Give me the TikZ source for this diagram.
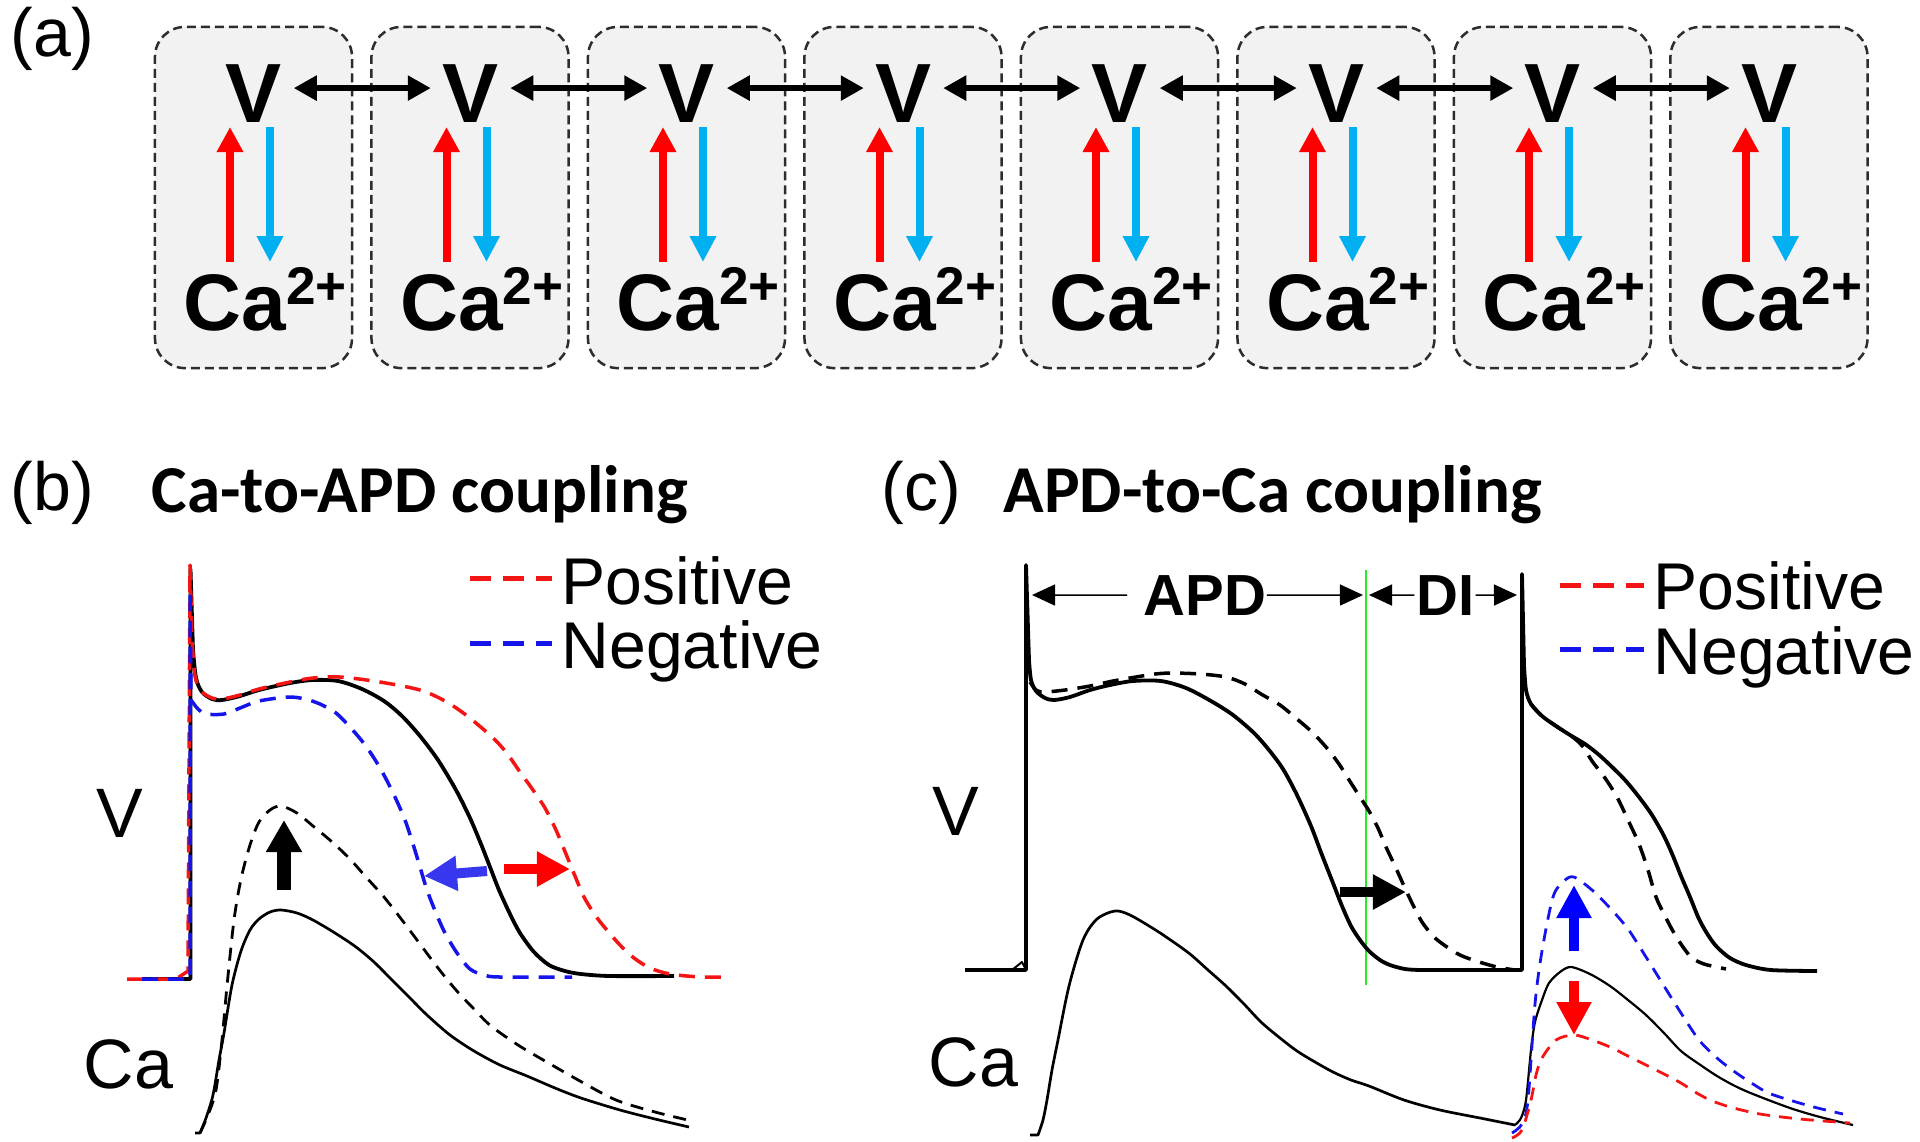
\documentclass[tikz,border=0pt]{standalone}
\usepackage{fontspec}
\setmainfont{Liberation Sans}
\newfontfamily\calib{Carlito}
\usetikzlibrary{arrows.meta}
\definecolor{cyanA}{RGB}{0,176,240}
\definecolor{redA}{RGB}{255,0,0}
\definecolor{boxfill}{RGB}{242,242,242}
\definecolor{boxline}{RGB}{45,45,45}
\definecolor{curveblue}{RGB}{20,20,235}
\definecolor{curvered}{RGB}{245,20,20}
\definecolor{arrblue}{RGB}{55,55,240}
\definecolor{greenl}{RGB}{40,235,40}
\definecolor{dimgray}{RGB}{70,70,70}
\tikzset{
  cellbox/.style={draw=boxline, fill=boxfill, dash pattern=on 0.09cm off 0.05cm, line width=0.025cm, rounded corners=0.3cm, minimum width=1.97cm, minimum height=3.41cm, inner sep=0},
  vtext/.style={anchor=base, inner ysep=0, inner xsep=0.11cm, font=\fontsize{23.9pt}{24pt}\selectfont\bfseries},
  catext/.style={anchor=base west, inner sep=0, font=\fontsize{22.8pt}{23pt}\selectfont\bfseries},
  redup/.style={redA, line width=0.08cm, -{Triangle[length=0.25cm,width=0.25cm]}},
  bluedown/.style={cyanA, line width=0.08cm, -{Triangle[length=0.26cm,width=0.25cm]}},
  dbl/.style={black, line width=0.055cm, {Triangle[length=0.23cm,width=0.24cm]}-{Triangle[length=0.23cm,width=0.24cm]}},
  panellab/.style={anchor=base west, inner sep=0, font=\fontsize{19.35pt}{20pt}\selectfont},
  title/.style={anchor=base west, inner sep=0, font=\fontsize{19.06pt}{20pt}\selectfont\calib\bfseries},
  axlab/.style={anchor=base west, inner sep=0, font=\fontsize{19.9pt}{20pt}\selectfont},
  legtext/.style={anchor=base west, inner sep=0, font=\fontsize{18.8pt}{19pt}\selectfont},
  legline/.style={line width=0.05cm, dash pattern=on 0.21cm off 0.12cm},
  vsolid/.style={black, line width=0.038cm, line join=round},
  vdash/.style={line width=0.035cm, dash pattern=on 0.16cm off 0.10cm, line join=round},
  casolid/.style={black, line width=0.027cm, line join=round},
  cadash/.style={line width=0.028cm, dash pattern=on 0.13cm off 0.09cm, line join=round},
  fat/.style={line width=0.11cm, -{Triangle[length=0.33cm,width=0.33cm]}},
  dimline/.style={dimgray, line width=0.015cm, -{Triangle[length=0.23cm,width=0.21cm]}, black},
  dimtext/.style={anchor=base, inner sep=0, font=\fontsize{16.5pt}{17pt}\selectfont\bfseries},
}
\begin{document}
\begin{tikzpicture}[x=0.01cm, y=-0.01cm]
\useasboundingbox (0,0) rectangle (1920,1141);

% ---------------- panel (a)
\node[panellab] (labA) at (10,56) {(a)};
\foreach \i in {1,...,8}{
  \pgfmathsetmacro{\bx}{155+216.5*(\i-1)}
  \node[cellbox] (box\i) at (\bx+98.5,197.5) {};
  \node[vtext] (v\i) at (\bx+99,122) {V};
  \node[catext] (ca\i) at (\bx+28,330) {Ca\raisebox{0.25cm}{\fontsize{15.1pt}{15pt}\selectfont 2+}};
  \coordinate (rb\i) at (\bx+75,262);
  \coordinate (rt\i) at (\bx+75,127);
  \coordinate (bt\i) at (\bx+115,127);
  \coordinate (bb\i) at (\bx+115,262);
  \draw[redup] (rb\i) -- (rt\i);
  \draw[bluedown] (bt\i) -- (bb\i);
}
\foreach \i [evaluate=\i as \j using int(\i+1)] in {1,...,7}
  \draw[dbl] ([yshift=0.05cm]v\i.east) -- ([yshift=0.05cm]v\j.west);

% ---------------- panel (b)
\node[panellab] (labB) at (10,510) {(b)};
\node[title] (titB) at (151,512) {Ca-to-APD coupling};
\node[axlab] (vB) at (96,837) {V};
\node[axlab] (caB) at (83,1088) {Ca};

% legend b
\coordinate (lbr1) at (470,578); \coordinate (lbr2) at (552,578);
\coordinate (lbb1) at (470,643); \coordinate (lbb2) at (552,643);
\draw[legline, curvered] (lbr1) -- (lbr2);
\draw[legline, curveblue] (lbb1) -- (lbb2);
\node[legtext] (posB) at (561,604) {Positive};
\node[legtext] (negB) at (561,668) {Negative};

% V black b
\draw[vsolid] (142,979) -- (190.5,979) -- (190.5,569) -- (193,650) -- plot[smooth, tension=0.5] coordinates {(193,650) (196,678) (202,692) (212,699) (222,700) (240,696) (259,690) (290,683) (313,680) (338,681) (362,689) (384,701) (402,716) (420,736) (438,760) (456,790) (470,818) (481,844) (490,867) (499,890) (510,914) (520,933) (534,952) (549,965) (565,971) (581,974) (610,976) (674,976)};
% V red b
\draw[vdash, curvered] (127,979) -- (176,979) -- (188,971) -- (190,565) -- (192,640) -- plot[smooth, tension=0.5] coordinates {(192,640) (195,676) (201,691) (212,698) (222,699) (240,695) (259,689) (290,682) (313,678) (340,677) (380,682) (420,690) (445,701) (466,715) (491,736) (506,752) (520,772) (533,790) (545,808) (556,830) (566,854) (575,876) (584,897) (595,915) (606,929) (620,945) (634,958) (650,968) (670,974) (700,977) (722,977)};
% V blue b
\draw[vdash, curveblue] (142,979) -- (190,979) -- (190,590) -- (191,700) -- plot[smooth, tension=0.5] coordinates {(191,700) (198,709) (206,714) (224,714) (240,708) (259,701) (288,697) (305,699) (320,704) (336,713) (349,726) (362,741) (374,758) (385,777) (395,797) (405,820) (413,844) (420,867) (427,890) (436,913) (445,933) (457,953) (470,969) (484,975) (500,977) (572,977)};
% Ca solid b
\draw[casolid] (195,1133) -- (200,1133) -- plot[smooth, tension=0.5] coordinates {(200,1133) (206,1118) (213,1095) (219,1060) (224,1033) (232,985) (241,951) (250,930) (259,919) (270,912) (281,910) (297,913) (313,920) (335,933) (356,947) (374,962) (391,979) (409,997) (427,1015) (450,1035) (474,1051) (500,1065) (527,1076) (555,1088) (581,1098) (620,1110) (655,1119) (689,1127)};
% Ca dashed b
\draw[cadash, black] plot[smooth, tension=0.5] coordinates {(200,1133) (208,1115) (216,1090) (222,1040) (227,986) (234,920) (241,879) (250,845) (259,822) (270,810) (281,806) (297,813) (313,826) (331,841) (349,858) (366,877) (384,897) (402,920) (420,944) (438,968) (456,990) (474,1009) (491,1026) (518,1045) (545,1061) (580,1081) (616,1100) (655,1112) (692,1121)};
% arrows b
\coordinate (bua) at (284,890); \coordinate (bub) at (284,820);
\draw[fat, black, line width=0.13cm, -{Triangle[length=0.32cm,width=0.34cm]}] (bua) -- (bub);
\coordinate (bla) at (487,871); \coordinate (blb) at (424,876);
\draw[fat, arrblue, line width=0.1cm] (bla) -- (blb);
\coordinate (bra) at (504,869); \coordinate (brb) at (570,869);
\draw[fat, redA, line width=0.1cm] (bra) -- (brb);

% ---------------- panel (c)
\node[panellab] (labC) at (881,510) {(c)};
\node[title] (titC) at (1003,512) {APD-to-Ca coupling};
\node[axlab] (vC) at (932,835) {V};
\node[axlab] (caC) at (928,1086) {Ca};

% legend c
\coordinate (lcr1) at (1560,585); \coordinate (lcr2) at (1644,585);
\coordinate (lcb1) at (1560,649); \coordinate (lcb2) at (1644,649);
\draw[legline, curvered] (lcr1) -- (lcr2);
\draw[legline, curveblue] (lcb1) -- (lcb2);
\node[legtext] (posC) at (1653,609) {Positive};
\node[legtext] (negC) at (1653,674) {Negative};

% green line
\coordinate (g1) at (1365.7,570); \coordinate (g2) at (1365.7,985);
\draw[greenl, line width=0.018cm] (g1) -- (g2);

% V black c
\draw[vsolid] (965,970) -- (1026,970) -- (1026,565) -- (1029,660) -- plot[smooth, tension=0.5] coordinates {(1029,660) (1031,680) (1036,691) (1045,698) (1054,700) (1070,697) (1090,690) (1110,685) (1133,681) (1161,681) (1186,688) (1211,701) (1233,715) (1254,733) (1269,750) (1283,769) (1297,795) (1311,826) (1322,855) (1333,883) (1342,906) (1351,926) (1360,940) (1369,951) (1380,960) (1390,965) (1405,969) (1422,970) (1460,970)} -- (1522,970) -- (1522,574) -- (1524,665) -- plot[smooth, tension=0.5] coordinates {(1524,665) (1526,690) (1531,704) (1542,716) (1556,726) (1570,735) (1585,744) (1598,754) (1610,765) (1625,780) (1639,797) (1652,815) (1664,836) (1673,856) (1681,876) (1690,897) (1699,919) (1708,935) (1717,947) (1730,958) (1746,965) (1771,970) (1817,971)};
\draw[vsolid, line width=0.02cm] (1012,970) -- (1022,962) -- (1026,970);
% V dashed c
\draw[vdash, black] plot[smooth, tension=0.5] coordinates {(1030,682) (1036,690) (1044,692) (1065,690) (1090,686) (1113,681) (1136,677) (1155,674) (1172,673) (1200,674) (1226,677) (1245,684) (1261,694) (1280,705) (1297,719) (1312,732) (1326,747) (1339,764) (1351,783) (1360,797) (1369,811) (1378,828) (1386,847) (1395,866) (1404,886) (1413,905) (1422,922) (1434,937) (1447,947) (1460,955) (1476,961) (1497,967) (1515,970)};
\draw[vdash, black] plot[smooth, tension=0.5] coordinates {(1531,704) (1542,716) (1556,726) (1574,738) (1584,748) (1592,761) (1605,778) (1617,797) (1628,820) (1639,844) (1648,870) (1656,897) (1665,916) (1674,933) (1683,947) (1692,958) (1704,964) (1717,967) (1726,969)};
% Ca c
\draw[casolid] (1030,1135) -- (1038,1135) -- plot[smooth, tension=0.5] coordinates {(1038,1135) (1043,1120) (1047,1100) (1052,1070) (1058,1040) (1069,986) (1083,940) (1097,919) (1115,911) (1130,915) (1154,929) (1172,941) (1190,954) (1208,970) (1226,986) (1244,1004) (1261,1022) (1280,1038) (1297,1051) (1315,1062) (1333,1072) (1351,1080) (1369,1086) (1404,1100) (1440,1110) (1480,1118) (1515,1125)};
\draw[casolid, line width=0.022cm] plot[smooth, tension=0.5] coordinates {(1515,1125) (1521,1118) (1526,1100) (1531,1050) (1535,1022) (1542,1000) (1549,983) (1560,972) (1571,967) (1590,974) (1610,986) (1628,1000) (1646,1015) (1664,1033) (1681,1051) (1699,1064) (1717,1076) (1735,1086) (1753,1094) (1790,1108) (1820,1117) (1853,1125)};
\draw[cadash, curveblue] plot[smooth, tension=0.5] coordinates {(1512,1133) (1522,1124) (1528,1100) (1535,1004) (1542,951) (1553,897) (1564,881) (1574,877) (1592,890) (1610,908) (1628,929) (1646,957) (1664,986) (1681,1013) (1699,1040) (1717,1058) (1735,1072) (1753,1084) (1771,1094) (1810,1106) (1843,1114)};
\draw[cadash, curvered] plot[smooth, tension=0.5] coordinates {(1512,1138) (1522,1130) (1531,1100) (1536,1075) (1542,1058) (1556,1040) (1574,1035) (1592,1040) (1610,1047) (1628,1056) (1646,1065) (1664,1074) (1681,1083) (1695,1092) (1710,1100) (1730,1107) (1760,1114) (1800,1119) (1850,1123)};

% arrows c
\coordinate (cka) at (1340,892); \coordinate (ckb) at (1406,892);
\draw[fat, black, line width=0.1cm] (cka) -- (ckb);
\coordinate (cba) at (1574,951); \coordinate (cbb) at (1574,885);
\draw[fat, blue, line width=0.1cm] (cba) -- (cbb);
\coordinate (cra) at (1574,981); \coordinate (crb) at (1574,1035);
\draw[fat, redA, line width=0.1cm] (cra) -- (crb);

% APD / DI dimensions
\node[dimtext] (apd) at (1205,615) {APD};
\node[dimtext] (di) at (1446,615) {DI};
\coordinate (apdL) at (1032,595); \coordinate (apdR) at (1363,595);
\coordinate (diL) at (1369,595); \coordinate (diR) at (1517,595);
\draw[dimline] ([xshift=-0.16cm]apd.west) -- (apdL);
\draw[dimline] (apd.east) -- (apdR);
\draw[dimline] ([xshift=-0.02cm]di.west) -- (diL);
\draw[dimline] (di.east) -- (diR);
\end{tikzpicture}
\end{document}
